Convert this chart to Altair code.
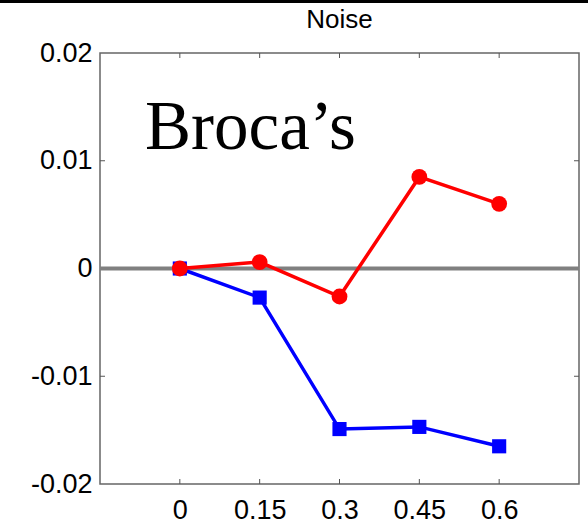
import altair as alt
import pandas as pd

noise = [0, 0.15, 0.3, 0.45, 0.6]
red_vals = [0.0, 0.0006, -0.0026, 0.0085, 0.0060]
blue_vals = [0.0, -0.0027, -0.0149, -0.0147, -0.0165]
x_ticks = [0, 0.15, 0.3, 0.45, 0.6]
y_ticks = [-0.02, -0.01, 0, 0.01, 0.02]
y_inner_ticks = [-0.01, 0.01]
title_text = "Noise"
panel_label = "Broca\u2019s"

W, H = 479, 431

red_df = pd.DataFrame({"x": noise, "y": red_vals})
blue_df = pd.DataFrame({"x": noise, "y": blue_vals})
xt_df = pd.DataFrame({"x": x_ticks})
yt_df = pd.DataFrame({"y": y_inner_ticks})

xs = alt.Scale(domain=[-0.15, 0.75], nice=False, zero=False)
ys = alt.Scale(domain=[-0.02, 0.02], nice=False, zero=False)

lab = dict(labelFont="Liberation Sans", labelFontSize=27, labelColor="black",
           domain=False, ticks=False, grid=False, title=None)

x_enc = alt.X("x:Q", scale=xs, axis=alt.Axis(values=x_ticks, labelPadding=13,
                                             labelExpr="datum.value == 0 ? '0' : format(datum.value, '.2~f')", **lab))
y_enc = alt.Y("y:Q", scale=ys, axis=alt.Axis(values=y_ticks, labelPadding=8,
                                             labelExpr="datum.value == 0 ? '0' : replace(format(datum.value, '.2f'), '\u2212', '-')", **lab))

zero_line = alt.Chart(pd.DataFrame({"y": [0]})).mark_rule(color="#808080", strokeWidth=4).encode(
    y=alt.Y("y:Q", scale=ys), x=alt.value(0), x2=alt.value(W))

ticks_bottom = alt.Chart(xt_df).mark_rule(color="#555555", strokeWidth=1).encode(
    x=alt.X("x:Q", scale=xs), y=alt.value(H), y2=alt.value(H - 5))
ticks_top = alt.Chart(xt_df).mark_rule(color="#555555", strokeWidth=1).encode(
    x=alt.X("x:Q", scale=xs), y=alt.value(0), y2=alt.value(5))
ticks_left = alt.Chart(yt_df).mark_rule(color="#555555", strokeWidth=1).encode(
    y=alt.Y("y:Q", scale=ys), x=alt.value(0), x2=alt.value(5))
ticks_right = alt.Chart(yt_df).mark_rule(color="#555555", strokeWidth=1).encode(
    y=alt.Y("y:Q", scale=ys), x=alt.value(W), x2=alt.value(W - 5))

blue_line = alt.Chart(blue_df).mark_line(color="#0000FF", strokeWidth=3.5).encode(x=x_enc, y=y_enc)
blue_pts = alt.Chart(blue_df).mark_point(shape="square", filled=True, color="#0000FF", size=200, opacity=1).encode(
    x=alt.X("x:Q", scale=xs), y=alt.Y("y:Q", scale=ys))
red_line = alt.Chart(red_df).mark_line(color="#FF0000", strokeWidth=3.5).encode(
    x=alt.X("x:Q", scale=xs), y=alt.Y("y:Q", scale=ys))
red_pts = alt.Chart(red_df).mark_point(shape="circle", filled=True, color="#FF0000", size=250, opacity=1).encode(
    x=alt.X("x:Q", scale=xs), y=alt.Y("y:Q", scale=ys))

label = alt.Chart(pd.DataFrame({"t": [panel_label]})).mark_text(
    font="Liberation Serif", fontSize=69, align="left", baseline="alphabetic", color="black"
).encode(text="t:N", x=alt.value(45), y=alt.value(96))

title = alt.Chart(pd.DataFrame({"t": [title_text]})).mark_text(
    font="Liberation Sans", fontSize=26, align="center", baseline="alphabetic", color="black"
).encode(text="t:N", x=alt.value(W / 2), y=alt.value(-25))

top_bar = alt.Chart(pd.DataFrame({"a": [0]})).mark_rect(color="black").encode(
    x=alt.value(-100), x2=alt.value(W + 9), y=alt.value(-53), y2=alt.value(-50))

chart = alt.layer(
    top_bar, zero_line, ticks_bottom, ticks_top, ticks_left, ticks_right,
    blue_line, blue_pts, red_line, red_pts, label, title
).properties(
    width=W, height=H,
    autosize=alt.AutoSizeParams(type="none"),
    padding={"left": 100, "top": 53, "right": 9, "bottom": 41},
    background="white",
).configure_view(stroke="#666666", strokeWidth=1.5)

chart.save("out.html", embed_options={"renderer": "svg", "actions": False})
